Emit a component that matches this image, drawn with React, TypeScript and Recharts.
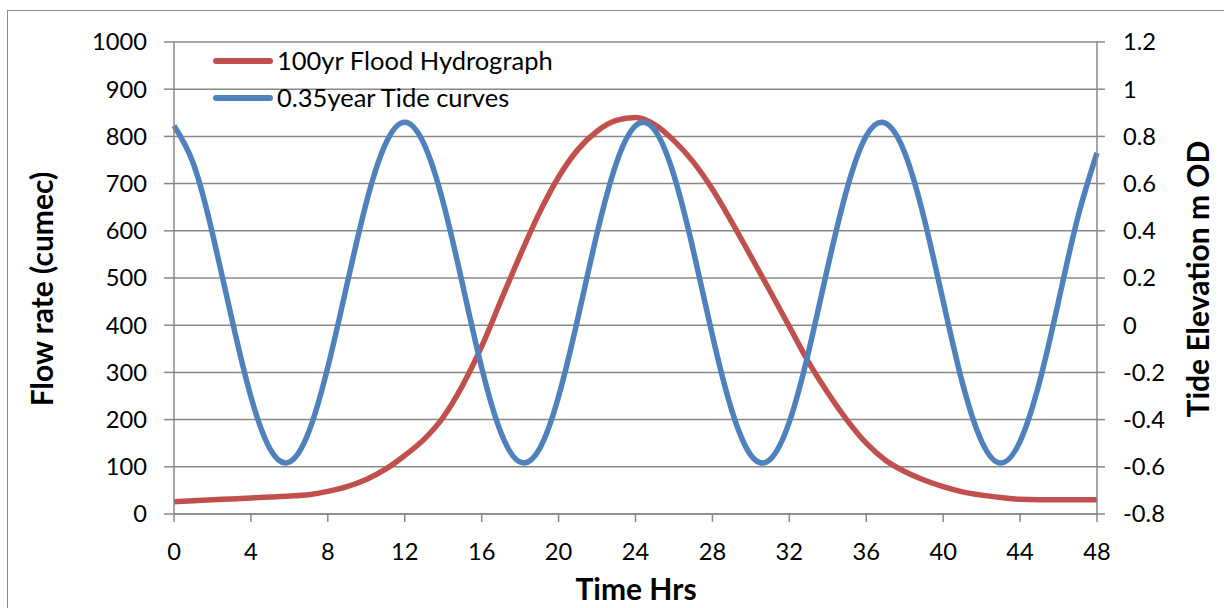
import React from "react";
import { LineChart, Line, XAxis, YAxis, CartesianGrid, Label } from "recharts";

const hours = [
  0, 1, 2, 3, 4, 5, 6, 7, 8, 9, 10, 11, 12, 13, 14, 15, 16, 17, 18, 19, 20, 21, 22, 23, 24,
  25, 26, 27, 28, 29, 30, 31, 32, 33, 34, 35, 36, 37, 38, 39, 40, 41, 42, 43, 44, 45, 46, 47, 48,
];

const floodFlow = [
  26, 28, 30, 32, 34, 36, 38, 41, 48, 58, 73, 95, 124,
  158, 205, 272, 355, 452, 548, 638, 714, 772, 811, 834, 840,
  825, 791, 746, 688, 619, 546, 472, 397, 322, 257, 199, 150,
  114, 90, 72, 58, 47, 40, 35, 31, 30, 30, 30, 30,
];

const tideLevel = [
  0.845, 0.686, 0.389, 0.029, -0.303, -0.525, -0.58, -0.454, -0.178, 0.174, 0.519, 0.768, 0.86,
  0.768, 0.52, 0.175, -0.18, -0.455, -0.58, -0.525, -0.302, 0.029, 0.389, 0.686, 0.845,
  0.827, 0.635, 0.319, -0.043, -0.359, -0.551, -0.569, -0.41, -0.113, 0.247, 0.578, 0.802,
  0.856, 0.731, 0.456, 0.102, -0.244, -0.492, -0.584, -0.492, -0.244, 0.102, 0.456, 0.73,
];

const hourTicks = [0, 4, 8, 12, 16, 20, 24, 28, 32, 36, 40, 44, 48];
const flowTicks = [0, 100, 200, 300, 400, 500, 600, 700, 800, 900, 1000];
const tideTicks = [-0.8, -0.6, -0.4, -0.2, 0, 0.2, 0.4, 0.6, 0.8, 1, 1.2];

const series = [
  { key: "flood", name: "100yr Flood Hydrograph", color: "#C0504D" },
  { key: "tide", name: "0.35year Tide curves", color: "#4F81BD" },
];

const data = hours.map((h, i) => ({ hour: h, flood: floodFlow[i], tide: tideLevel[i] }));

const GRID = "#888888";
const FONT = "Lato, 'Open Sans', sans-serif";
const tickStyle = { fontSize: 23.7, fill: "#000", fontFamily: FONT };
const titleStyle = { fontSize: 30, fontWeight: 700, fill: "#000", fontFamily: FONT };

// axis titles drawn as plain svg text so they sit where Excel put them
const title = (text: string, x: number, y: number, rotate: boolean) => () =>
  (
    <text
      x={x}
      y={y}
      textAnchor="middle"
      transform={rotate ? `rotate(-90, ${x}, ${y})` : undefined}
      style={titleStyle}
    >
      {text}
    </text>
  );

function LegendBox() {
  return (
    <div
      style={{
        position: "absolute",
        left: 210,
        top: 42,
        fontFamily: FONT,
        fontSize: 25.5,
        color: "#000",
        lineHeight: "37px",
      }}
    >
      {series.map((s) => (
        <div key={s.key} style={{ display: "flex", alignItems: "center", height: 37 }}>
          <svg width={64} height={10} style={{ marginRight: 3 }}>
            <line x1={6} y1={5} x2={60} y2={5} stroke={s.color} strokeWidth={6} strokeLinecap="round" />
          </svg>
          <span>{s.name}</span>
        </div>
      ))}
    </div>
  );
}

export default function App() {
  return (
    <div
      style={{
        position: "absolute",
        left: 0,
        top: 0,
        width: 1224,
        height: 608,
        overflow: "hidden",
        background: "#fff",
        fontFamily: FONT,
      }}
    >
      <div
        style={{
          position: "absolute",
          left: 7,
          top: 10,
          width: 1400,
          height: 800,
          border: "1.5px solid #8c8c8c",
        }}
      />
      <LineChart
        width={1224}
        height={608}
        data={data}
        margin={{ top: 42, right: 0, bottom: 0, left: 0 }}
        style={{ position: "absolute", left: 0, top: 0 }}
      >
        <CartesianGrid yAxisId="flow" vertical={false} stroke={GRID} strokeWidth={1.5} />
        <XAxis
          dataKey="hour"
          type="number"
          domain={[0, 48]}
          ticks={hourTicks}
          height={94}
          tickSize={8}
          tickMargin={21}
          tick={tickStyle}
          axisLine={{ stroke: GRID, strokeWidth: 1.5 }}
          tickLine={{ stroke: GRID, strokeWidth: 1.5 }}
        >
          <Label content={title("Time Hrs", 636, 600, false)} />
        </XAxis>
        <YAxis
          yAxisId="flow"
          domain={[0, 1000]}
          ticks={flowTicks}
          width={174}
          tickSize={10}
          tickMargin={17}
          tick={tickStyle}
          axisLine={{ stroke: GRID, strokeWidth: 1.5 }}
          tickLine={{ stroke: GRID, strokeWidth: 1.5 }}
        >
          <Label content={title("Flow rate (cumec)", 53, 289, true)} />
        </YAxis>
        <YAxis
          yAxisId="tide"
          orientation="right"
          domain={[-0.8, 1.2]}
          ticks={tideTicks}
          width={127}
          tickSize={8}
          tickMargin={18}
          tick={tickStyle}
          tickFormatter={(v: number) => String(Number(v.toFixed(1)))}
          axisLine={{ stroke: GRID, strokeWidth: 1.5 }}
          tickLine={{ stroke: GRID, strokeWidth: 1.5 }}
        >
          <Label content={title("Tide Elevation m OD", 1209, 279, true)} />
        </YAxis>
        <Line
          yAxisId="flow"
          type="monotone"
          dataKey="flood"
          name={series[0].name}
          stroke={series[0].color}
          strokeWidth={5.5}
          dot={false}
          activeDot={false}
          isAnimationActive={false}
        />
        <Line
          yAxisId="tide"
          type="natural"
          dataKey="tide"
          name={series[1].name}
          stroke={series[1].color}
          strokeWidth={5.5}
          dot={false}
          activeDot={false}
          isAnimationActive={false}
        />
      </LineChart>
      <LegendBox />
    </div>
  );
}
